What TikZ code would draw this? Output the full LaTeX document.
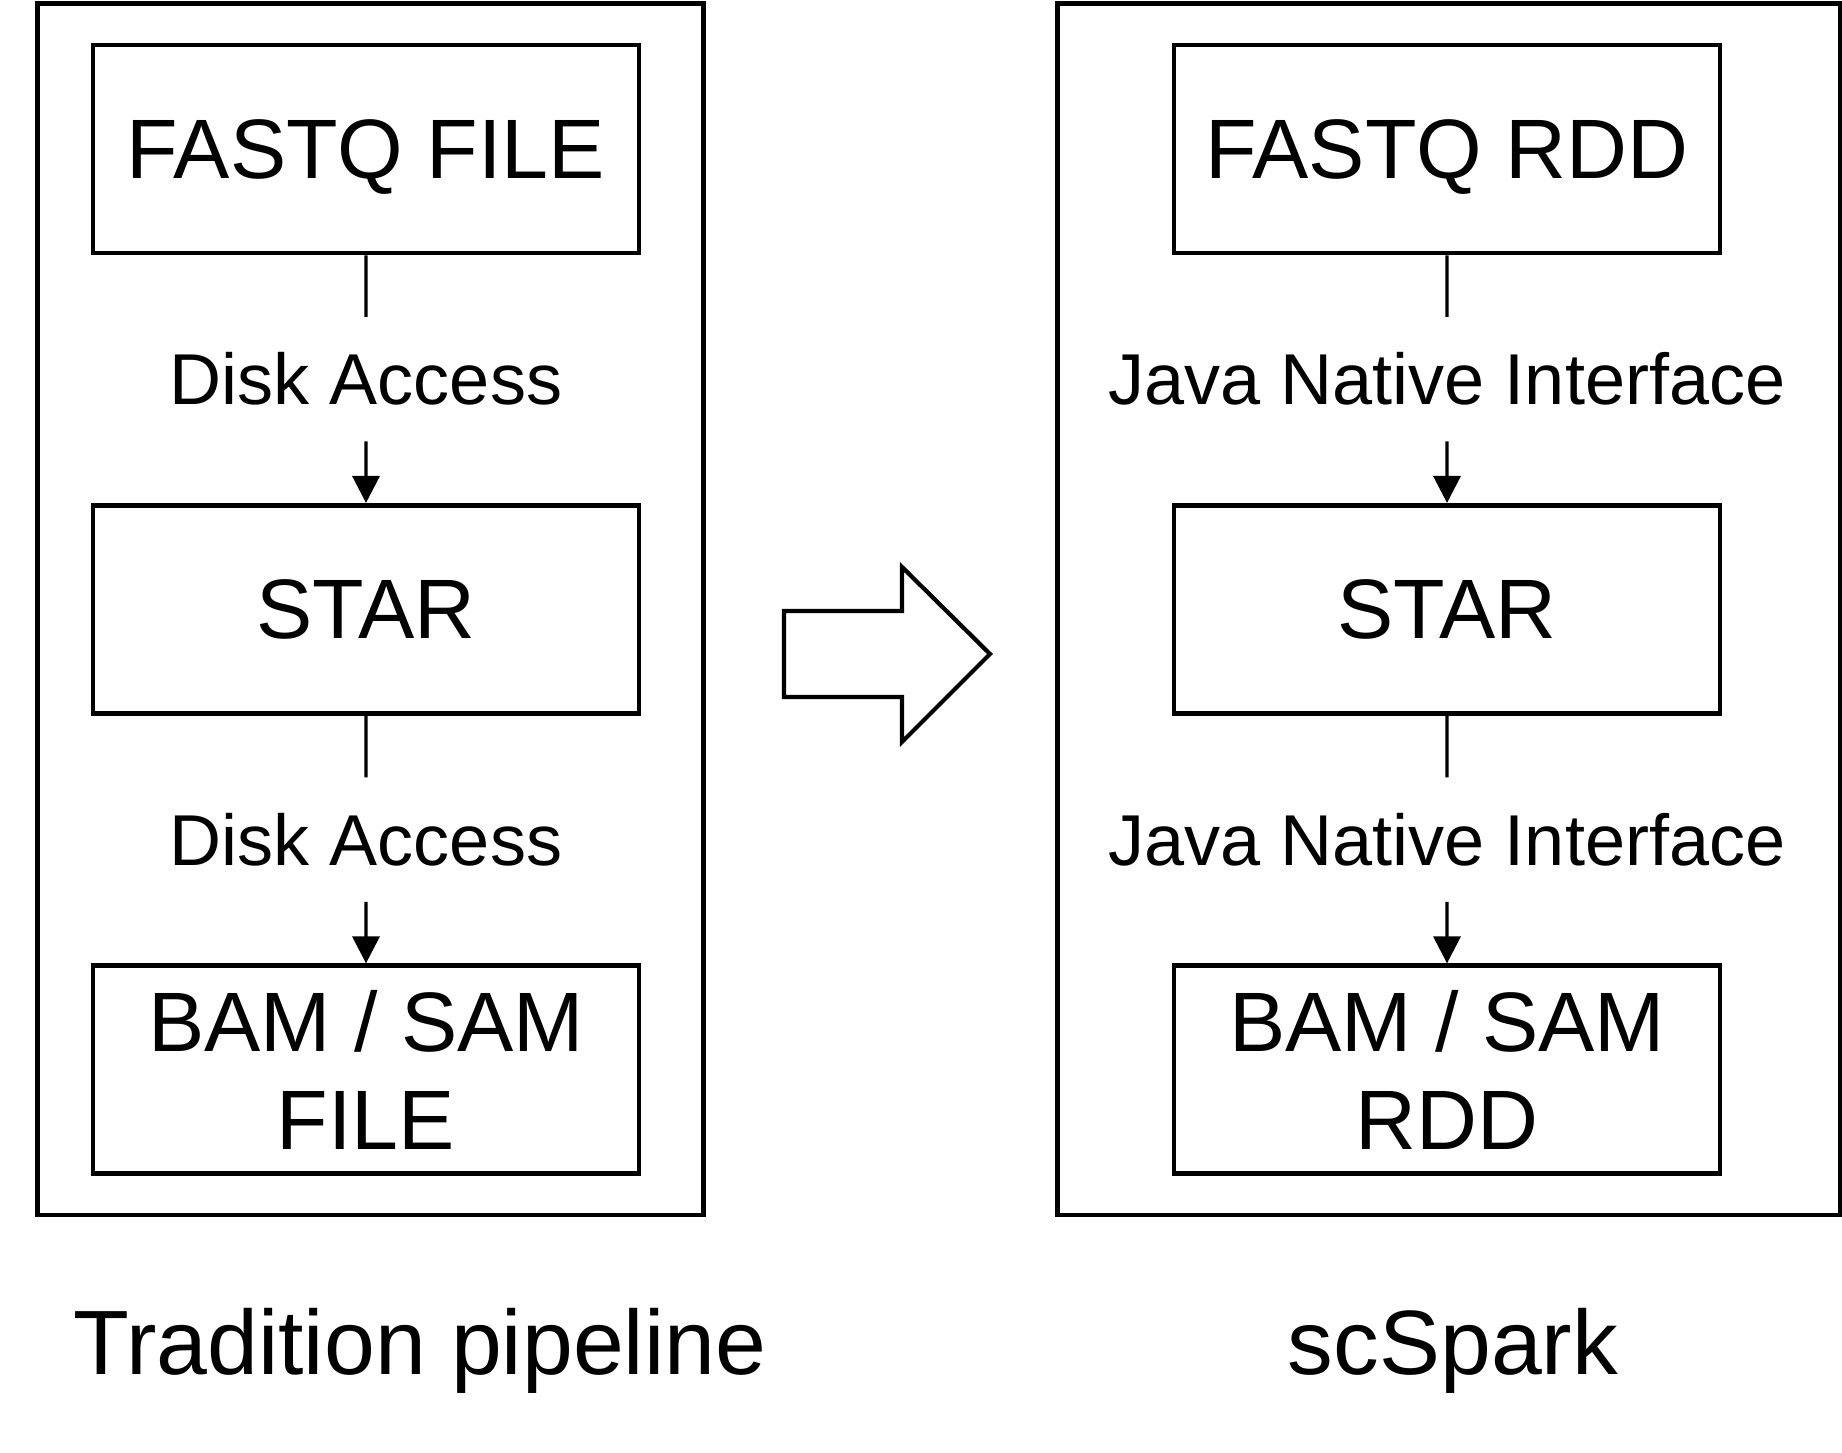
\documentclass[tikz,border=0pt]{standalone}
\usepackage{fontspec}
\setmainfont{Liberation Sans}
\usetikzlibrary{arrows.meta,positioning,fit,calc}
\tikzset{
  stagebox/.style={rectangle,draw=black,line width=1.4pt,inner sep=0pt,
                   minimum width=5.46cm,minimum height=2.08cm,text depth=0pt,
                   align=center,font=\fontsize{24}{28}\selectfont},
  linklabel/.style={inner sep=0pt,minimum height=1.23cm,
                    font=\fontsize{20.5}{24}\selectfont},
  framebox/.style={rectangle,draw=black,line width=1.4pt,inner ysep=0.387cm},
  caption/.style={anchor=base,font=\fontsize{26}{30}\selectfont},
  link/.style={line width=0.95pt},
  arr/.style={-{Triangle[length=2.7mm,width=2.7mm]},line width=0.95pt},
  bigarrow/.style={draw=black,line width=1.2pt,line join=miter}
}
\begin{document}
\begin{tikzpicture}[node distance=2.475cm]
  \useasboundingbox (0,0) rectangle (18.42,-14.53);

  % tradition pipeline
  \node[stagebox] (fqfile) at (3.66,-1.49) {FASTQ FILE};
  \node[stagebox,below=of fqfile] (starL) {STAR};
  \node[stagebox,below=of starL] (bamfile) {BAM / SAM\\FILE};

  \node[linklabel] (disk1) at ($(fqfile.south)!0.5!(starL.north)$) {Disk Access};
  \node[linklabel] (disk2) at ($(starL.south)!0.5!(bamfile.north)$) {Disk Access};

  % scSpark
  \node[stagebox] (fqrdd) at (14.47,-1.49) {FASTQ RDD};
  \node[stagebox,below=of fqrdd] (starR) {STAR};
  \node[stagebox,below=of starR] (bamrdd) {BAM / SAM\\RDD};

  \node[linklabel] (jni1) at ($(fqrdd.south)!0.5!(starR.north)$) {Java Native Interface};
  \node[linklabel] (jni2) at ($(starR.south)!0.5!(bamrdd.north)$) {Java Native Interface};

  \foreach \f/\l/\t in {fqfile/disk1/starL,starL/disk2/bamfile,
                        fqrdd/jni1/starR,starR/jni2/bamrdd} {
    \draw[link] (\f) -- (\l);
    \draw[arr] (\l) -- (\t);
  }

  \node[framebox,fit=(fqfile)(bamfile),inner xsep=0.572cm,xshift=0.045cm] (tradframe) {};
  \node[framebox,fit=(fqrdd)(bamrdd),inner xsep=1.157cm,xshift=0.02cm] (sparkframe) {};

  % big arrow between the two
  \draw[bigarrow] (7.84,-6.11) -- (9.02,-6.11) -- (9.02,-5.67) -- (9.90,-6.54)
    -- (9.02,-7.42) -- (9.02,-6.97) -- (7.84,-6.97) -- cycle;

  \node[caption] (tradcap) at (4.20,-13.74) {Tradition pipeline};
  \node[caption] (sparkcap) at (14.53,-13.74) {scSpark};

\end{tikzpicture}
\end{document}
